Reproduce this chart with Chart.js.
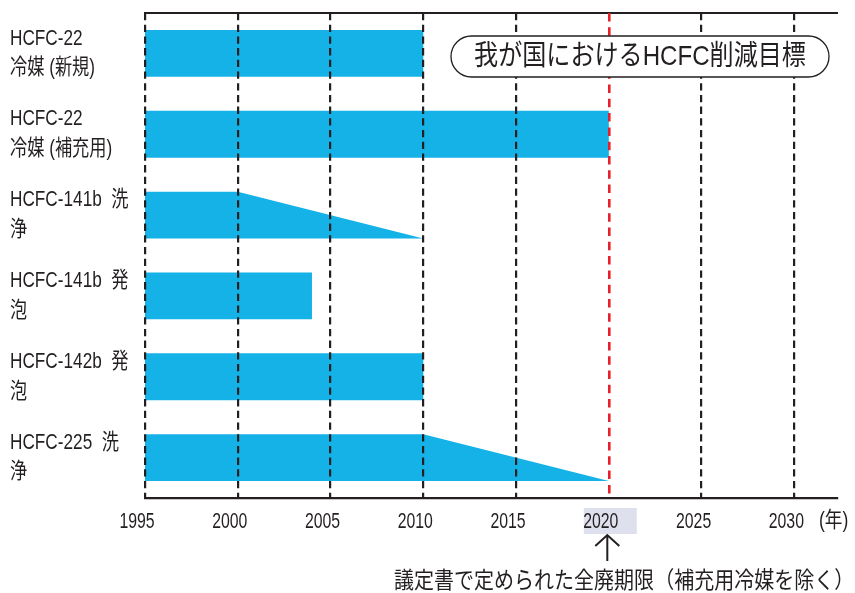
<!DOCTYPE html>
<html>
<head>
<meta charset="utf-8">
<title>我が国におけるHCFC削減目標</title>
<script src="https://cdn.jsdelivr.net/npm/chart.js@4/dist/chart.umd.min.js"></script>
<style>
  html, body { margin: 0; padding: 0; background: #ffffff; }
  #wrap { position: relative; width: 855px; height: 593px; }
</style>
</head>
<body>
<div id="wrap"><canvas id="chart"></canvas></div>
<script>
// Substances (two-line row labels)
const categories = [
  ['HCFC-22', '冷媒 (新規)'],
  ['HCFC-22', '冷媒 (補充用)'],
  ['HCFC-141b  洗', '浄'],
  ['HCFC-141b  発', '泡'],
  ['HCFC-142b  発', '泡'],
  ['HCFC-225  洗', '浄']
];
// Year each band starts, year the reduction begins, year of phase-out
const startYears = [1995, 1995, 1995, 1995, 1995, 1995];
const reductionStartYears = [2010, 2020, 2000, 2004, 2010, 2010];
const phaseOutYears = [2010, 2020, 2010, 2004, 2010, 2020];
// Axis
const tickYears = [1995, 2000, 2005, 2010, 2015, 2020, 2025, 2030];
const axisMinYear = 1995;
const axisMaxYear = 2032.3;
const deadlineYear = 2020;
// Texts
const chartTitle = '我が国におけるHCFC削減目標';
const deadlineNote = '議定書で定められた全廃期限（補充用冷媒を除く）';
const yearUnit = '(年)';

const BAR_COLOR = '#14b2e7';
const TEXT_COLOR = '#231f20';
const RED = '#e8202a';
const LATIN = '"Liberation Sans", "Noto Sans CJK JP", sans-serif';
const CJK = '"Noto Sans CJK JP", "Noto Sans", sans-serif';
const BAR_HALF = 0.29;

// Each band is a closed outline: flat top until the reduction starts, then
// tapering down to the bottom edge at the phase-out year.
const datasets = categories.map((c, i) => ({
  label: c.join(' '),
  data: [
    { x: startYears[i], y: i - BAR_HALF },
    { x: reductionStartYears[i], y: i - BAR_HALF },
    { x: phaseOutYears[i], y: i + BAR_HALF },
    { x: startYears[i], y: i + BAR_HALF },
    { x: startYears[i], y: i - BAR_HALF }
  ],
  showLine: true,
  fill: 'shape',
  backgroundColor: BAR_COLOR,
  borderColor: 'rgba(0,0,0,0)',
  borderWidth: 0,
  pointRadius: 0,
  pointHoverRadius: 0,
  tension: 0
}));

// Draw an axis' tick labels in a horizontally condensed face.
function condenseLabels(scale, factor) {
  if (scale._condensed === factor) return;
  scale._condensed = factor;
  const original = scale.drawLabels;
  scale.drawLabels = function (area) {
    const ctx = this.ctx;
    const fill = ctx.fillText;
    ctx.fillText = function (text, x, y, maxWidth) {
      this.save();
      this.translate(x, y);
      this.scale(factor, 1);
      if (maxWidth === undefined) fill.call(this, text, 0, 0);
      else fill.call(this, text, 0, 0, maxWidth / factor);
      this.restore();
    };
    try { original.call(this, area); } finally { delete ctx.fillText; }
  };
}

function condensedText(ctx, text, x, y, font, factor, align) {
  ctx.save();
  ctx.translate(x, y);
  ctx.scale(factor, 1);
  ctx.fillStyle = TEXT_COLOR;
  ctx.font = font;
  ctx.textAlign = align;
  ctx.textBaseline = 'middle';
  ctx.fillText(text, 0, 0);
  ctx.restore();
}

const isDeadline = ctx => !!(ctx.tick && ctx.tick.value === deadlineYear);

const decorations = {
  id: 'decorations',
  afterLayout(chart) {
    condenseLabels(chart.scales.x, 0.72);
    condenseLabels(chart.scales.y, 0.8);
  },
  beforeDraw(chart) {
    // light highlight behind the deadline year label
    const ctx = chart.ctx;
    const x = chart.scales.x.getPixelForValue(deadlineYear);
    ctx.save();
    ctx.fillStyle = '#dfe0ee';
    ctx.fillRect(x - 25, 508, 53, 26);
    ctx.restore();
  },
  afterDraw(chart) {
    const ctx = chart.ctx;
    const xd = chart.scales.x.getPixelForValue(deadlineYear);

    // rounded title box
    ctx.save();
    const bx = 451, by = 36, bw = 378, bh = 41, r = bh / 2;
    ctx.beginPath();
    ctx.moveTo(bx + r, by);
    ctx.lineTo(bx + bw - r, by);
    ctx.arc(bx + bw - r, by + r, r, -Math.PI / 2, Math.PI / 2);
    ctx.lineTo(bx + r, by + bh);
    ctx.arc(bx + r, by + r, r, Math.PI / 2, Math.PI * 1.5);
    ctx.closePath();
    ctx.fillStyle = '#ffffff';
    ctx.fill();
    ctx.lineWidth = 1.3;
    ctx.strokeStyle = TEXT_COLOR;
    ctx.stroke();
    ctx.restore();
    condensedText(ctx, chartTitle, bx + bw / 2, by + bh / 2 + 1, '28px "Liberation Sans", ' + CJK, 0.86, 'center');

    // arrow pointing at the deadline year
    ctx.save();
    ctx.strokeStyle = TEXT_COLOR;
    ctx.lineWidth = 2;
    const ax = xd - 1.5;
    ctx.beginPath();
    ctx.moveTo(ax, 535);
    ctx.lineTo(ax, 561);
    ctx.moveTo(ax - 12, 546);
    ctx.lineTo(ax, 535);
    ctx.lineTo(ax + 12, 546);
    ctx.stroke();
    ctx.restore();

    // deadline note
    condensedText(ctx, deadlineNote, 394, 579, '23px ' + CJK, 0.87, 'left');

    // unit label at the end of the year axis
    condensedText(ctx, yearUnit, 819, 521, '22px ' + LATIN, 0.8, 'left');
  }
};

new Chart(document.getElementById('chart'), {
  type: 'scatter',
  data: { datasets },
  plugins: [decorations],
  options: {
    responsive: true,
    maintainAspectRatio: false,
    animation: false,
    events: [],
    layout: { padding: { top: 13, left: 10, right: 18, bottom: 0 } },
    plugins: {
      legend: { display: false },
      tooltip: { enabled: false },
      title: { display: false }
    },
    scales: {
      x: {
        type: 'linear',
        position: 'bottom',
        min: axisMinYear,
        max: axisMaxYear,
        afterBuildTicks: s => { s.ticks = tickYears.map(v => ({ value: v })); },
        afterFit: s => { s.height = 95; s.paddingLeft = 0; s.paddingRight = 0; },
        grid: {
          z: 1,
          drawTicks: false,
          lineWidth: ctx => isDeadline(ctx) ? 2.6 : 2.2,
          color: ctx => isDeadline(ctx) ? RED : TEXT_COLOR
        },
        border: {
          display: true,
          color: TEXT_COLOR,
          width: 2.2,
          dash: ctx => isDeadline(ctx) ? [8.5, 5.8] : [7.3, 4.4],
          z: 2
        },
        ticks: {
          autoSkip: false,
          maxRotation: 0,
          padding: 11,
          labelOffset: -8,
          color: TEXT_COLOR,
          font: { family: LATIN, size: 22 },
          callback: v => String(v)
        }
      },
      top: {
        type: 'linear',
        axis: 'x',
        position: 'top',
        min: axisMinYear,
        max: axisMaxYear,
        afterFit: s => { s.height = 0; s.paddingLeft = 0; s.paddingRight = 0; },
        grid: { display: false, drawTicks: false },
        ticks: { display: false },
        border: { display: true, color: TEXT_COLOR, width: 2 }
      },
      y: {
        type: 'linear',
        reverse: true,
        min: -0.5,
        max: 5.5,
        afterBuildTicks: s => { s.ticks = categories.map((_, i) => ({ value: i })); },
        afterFit: s => { s.width = 135; s.paddingTop = 0; s.paddingBottom = 0; },
        grid: { display: false },
        border: { display: false },
        ticks: {
          autoSkip: false,
          crossAlign: 'far',
          padding: 0,
          color: TEXT_COLOR,
          font: { family: LATIN, size: 21.5, lineHeight: 1.38 },
          callback: v => categories[v]
        }
      }
    }
  }
});
</script>
</body>
</html>
